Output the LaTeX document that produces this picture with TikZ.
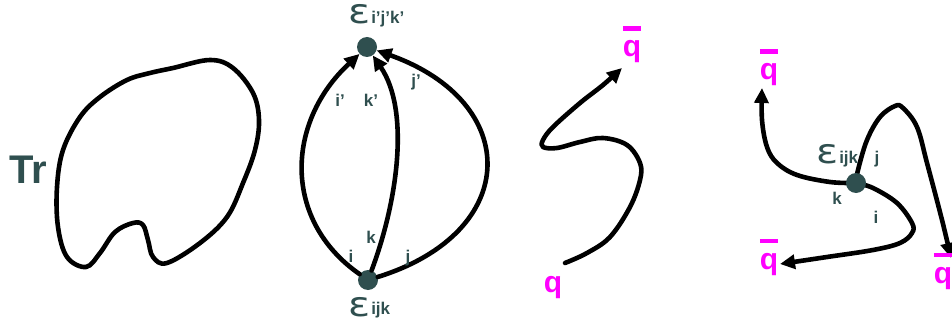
\documentclass[tikz,border=0pt]{standalone}
\usepackage{fontspec}
\setmainfont{Liberation Sans}
\newfontfamily\epsfam{DejaVu Sans}
\usetikzlibrary{arrows.meta}
\definecolor{slate}{RGB}{47,79,79}
\definecolor{qmag}{RGB}{255,0,255}
\newcommand{\myeps}{{\epsfam\fontsize{34}{34}\selectfont\scalebox{1.2}[1]{ε}}}
\newcommand{\qbartxt}{\rlap{\rule[26pt]{18.3pt}{4.5pt}}q}
\newcommand{\subfnt}{\fontsize{17}{17}\selectfont\bfseries}
\tikzset{
  curve/.style={line width=4.6pt, draw=black, line cap=round, line join=round},
  arr/.style={curve, -{Triangle[length=15pt,width=14pt]}},
  blob/.style={circle, fill=slate, inner sep=0pt, minimum size=20pt},
  lab/.style={text=slate, font=\subfnt, inner sep=0pt},
  epslab/.style={text=slate, inner sep=0pt, anchor=base west},
  qlab/.style={text=qmag, font=\fontsize{30}{30}\selectfont\bfseries, inner sep=0pt, anchor=base},
  trlab/.style={text=slate, font=\fontsize{40}{40}\selectfont\bfseries, inner sep=0pt, anchor=base west},
}
\begin{document}
\begin{tikzpicture}[x=1pt,y=-1pt]
\useasboundingbox (0,0) rectangle (952,326);

% ---------- Panel 1: trace loop ----------
\node[trlab] (tr) at (9,183) {Tr};
\draw[curve] plot[smooth cycle, tension=0.6] coordinates {
 (173,68) (210,60) (233,68) (253,93) (259,120) (255,150) (243,183) (227,217)
 (200,243) (167,263) (153,257) (148,240) (143,225) (133,223) (115,232)
 (100,253) (86,267) (67,257) (58,227) (57,187) (63,150) (80,117) (100,97)
 (127,80) (150,73)};

% ---------- Panel 2: baryon loop ----------
\node[blob] (top) at (367,47) {};
\node[blob] (bot) at (368,280) {};
\draw[arr] (bot) .. controls (282,220) and (286,122) .. (top);
\draw[arr] (bot) .. controls (398,200) and (410,110) .. (top);
\draw[arr] (bot) .. controls (522,232) and (522,102) .. (top);
\node[epslab] (etop) at (348,24) {\myeps\kern1pt{\subfnt i’j’k’}};
\node[epslab] (ebot) at (348,316) {\myeps\kern1pt\raisebox{2pt}{\subfnt ijk}};
\node[lab] (li2) at (340,100) {i’};
\node[lab] (lk2) at (371,100) {k’};
\node[lab] (lj2) at (416,82) {j’};
\node[lab] (lk1) at (371,237) {k};
\node[lab] (li1) at (351,256) {i};
\node[lab] (lj1) at (408,258) {j};

% ---------- Panel 3: quark line ----------
\coordinate (qs) at (565,263);
\coordinate (qe) at (622,68);
\draw[arr] plot[smooth, tension=0.6] coordinates {
 (qs) (587,253) (610,237) (630,207) (640,180) (640,163) (627,145) (603,138)
 (580,142) (557,148) (543,147) (543,140) (553,127) (580,103) (603,85) (qe)};
\node[qlab] (q3) at (553,292) {q};
\node[qlab] (qb3) at (632,57) {\qbartxt};

% ---------- Panel 4: baryon vertex ----------
\coordinate (v) at (856,183);
\coordinate (ek) at (762,88);
\coordinate (ej) at (951,258);
\coordinate (ei) at (780,264);
\draw[arr] plot[smooth, tension=0.6] coordinates {
 (v) (830,182) (797,175) (777,163) (767,147) (762,120) (ek)};
\draw[arr] plot[smooth, tension=0.6] coordinates {
 (v) (858,170) (867,140) (880,117) (895,106) (903,108) (917,127) (927,163) (942,220) (ej)};
\draw[arr] plot[smooth, tension=0.6] coordinates {
 (v) (873,188) (897,203) (912,223) (912,233) (900,243) (873,250) (827,257) (ei)};
\node[blob] (vb) at (v) {};
\node[epslab] (e4) at (816,163) {\myeps\kern1pt{\subfnt ijk}};
\node[lab] (lj4) at (877,159) {j};
\node[lab] (lk4) at (837,198) {k};
\node[lab] (li4) at (876,217) {i};
\node[qlab] (qa) at (769,80) {\qbartxt};
\node[qlab] (qb) at (769,269) {\qbartxt};
\node[qlab] (qc) at (943,283) {\qbartxt};
\end{tikzpicture}
\end{document}
